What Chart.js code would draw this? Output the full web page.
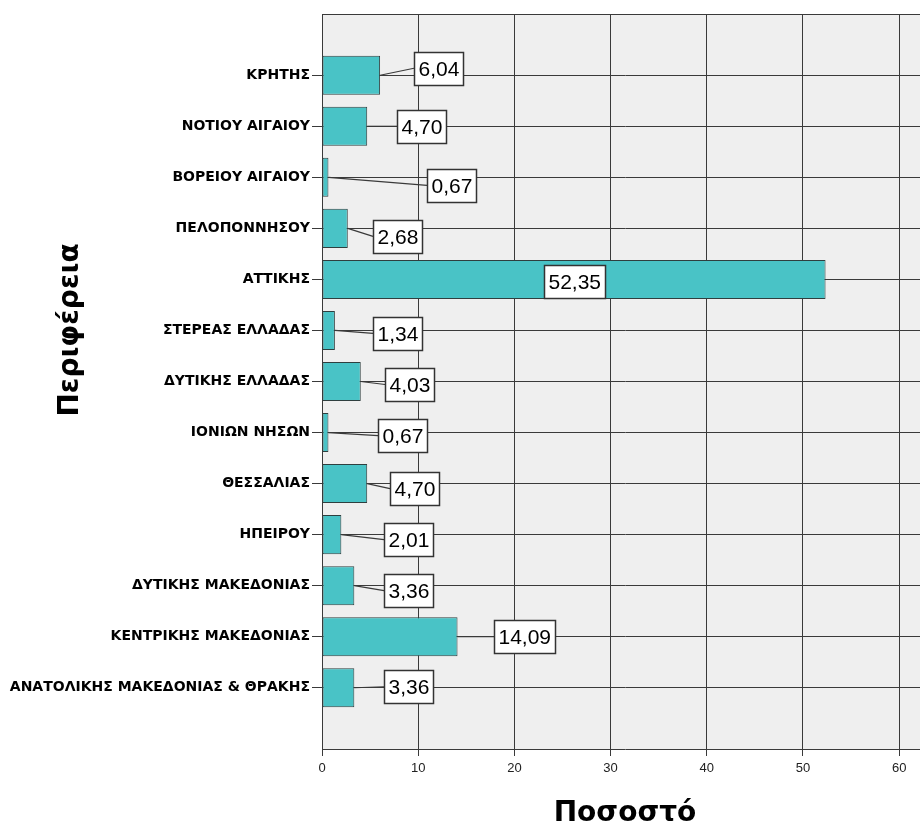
<!DOCTYPE html>
<html>
<head>
<meta charset="utf-8">
<script src="https://cdn.jsdelivr.net/npm/chart.js@4"></script>
<style>
  body { margin: 0; overflow: hidden; background: #fff; }
  #wrap { width: 940px; height: 823px; }
</style>
</head>
<body>
<div id="wrap"><canvas id="barChart"></canvas></div>
<script>
const regions = [
    "ΚΡΗΤΗΣ",
    "ΝΟΤΙΟΥ ΑΙΓΑΙΟΥ",
    "ΒΟΡΕΙΟΥ ΑΙΓΑΙΟΥ",
    "ΠΕΛΟΠΟΝΝΗΣΟΥ",
    "ΑΤΤΙΚΗΣ",
    "ΣΤΕΡΕΑΣ ΕΛΛΑΔΑΣ",
    "ΔΥΤΙΚΗΣ ΕΛΛΑΔΑΣ",
    "ΙΟΝΙΩΝ ΝΗΣΩΝ",
    "ΘΕΣΣΑΛΙΑΣ",
    "ΗΠΕΙΡΟΥ",
    "ΔΥΤΙΚΗΣ ΜΑΚΕΔΟΝΙΑΣ",
    "ΚΕΝΤΡΙΚΗΣ ΜΑΚΕΔΟΝΙΑΣ",
    "ΑΝΑΤΟΛΙΚΗΣ ΜΑΚΕΔΟΝΙΑΣ & ΘΡΑΚΗΣ"
];
const percents = [6.04, 4.70, 0.67, 2.68, 52.35, 1.34, 4.03, 0.67, 4.70, 2.01, 3.36, 14.09, 3.36];
const xTicks = [0, 10, 20, 30, 40, 50, 60];

// where each value box sits relative to the bar end: [dx, dy], null dx = inside the bar
const labelShift = [
    [34, -7], [30, 0], [99, 8], [25, 8], [null, 2], [38, 3], [24, 3],
    [50, 3], [23, 5], [43, 5], [30, 5], [36, 0], [30, -1]
];

const lineColor = "#3a3a3a";

const chartBackground = {
    id: "chartBackground",
    beforeDraw(chart) {
        const { ctx, chartArea: a } = chart;
        ctx.save();
        ctx.fillStyle = "#efefef";
        ctx.fillRect(a.left, a.top, a.right - a.left, a.bottom - a.top);
        ctx.restore();
    },
    afterDraw(chart) {
        const { ctx, chartArea: a } = chart;
        ctx.save();
        ctx.strokeStyle = lineColor;
        ctx.lineWidth = 1;
        ctx.beginPath();
        ctx.moveTo(a.left, a.top + 0.5);
        ctx.lineTo(a.right, a.top + 0.5);
        ctx.stroke();

        // axis titles
        ctx.fillStyle = "#000";
        ctx.font = "bold 28px 'DejaVu Sans'";
        ctx.textAlign = "center";
        ctx.textBaseline = "alphabetic";
        ctx.fillText("Ποσοστό", (a.left + a.right) / 2, 821);
        ctx.translate(78, 330);
        ctx.rotate(-Math.PI / 2);
        ctx.fillText("Περιφέρεια", 0, 0);
        ctx.restore();
    }
};

const valueBoxes = {
    id: "valueBoxes",
    afterDatasetsDraw(chart) {
        const { ctx } = chart;
        const bars = chart.getDatasetMeta(0).data;
        ctx.save();
        ctx.font = "21px 'Liberation Sans'";
        ctx.textBaseline = "middle";
        ctx.textAlign = "left";
        bars.forEach((bar, i) => {
            const text = percents[i].toFixed(2).replace(".", ",");
            const w = Math.round(ctx.measureText(text).width) + 8;
            const h = 33;
            const [dx, dy] = labelShift[i];
            const cy = bar.y + dy;
            let left;
            if (dx === null) {
                left = Math.round((bar.x + bar.base) / 2 - w / 2);
            } else {
                left = Math.round(bar.x + dx);
                ctx.strokeStyle = lineColor;
                ctx.lineWidth = 1.2;
                ctx.beginPath();
                ctx.moveTo(bar.x, bar.y);
                ctx.lineTo(left, cy);
                ctx.stroke();
            }
            const top = Math.round(cy - h / 2);
            ctx.fillStyle = "#fff";
            ctx.fillRect(left, top, w, h);
            ctx.strokeStyle = "#333";
            ctx.lineWidth = 1.5;
            ctx.strokeRect(left + 0.5, top + 0.5, w, h);
            ctx.fillStyle = "#000";
            ctx.fillText(text, left + 4.5, cy + 1.5);
        });
        ctx.restore();
    }
};

new Chart(document.getElementById("barChart"), {
    type: "bar",
    data: {
        datasets: [{
            data: percents.map((v, i) => ({ x: v, y: i })),
            backgroundColor: "#49c3c6",
            borderColor: "#2f3f3f",
            borderWidth: 1,
            borderSkipped: false,
            categoryPercentage: 1,
            barPercentage: 0.765
        }]
    },
    options: {
        indexAxis: "y",
        responsive: true,
        maintainAspectRatio: false,
        animation: false,
        layout: { padding: { top: 14, right: 12, left: 0, bottom: 0 } },
        plugins: { legend: { display: false }, tooltip: { enabled: false } },
        scales: {
            x: {
                type: "linear",
                min: 0,
                max: 63,
                afterBuildTicks: (scale) => { scale.ticks = xTicks.map((v) => ({ value: v })); },
                afterFit: (scale) => { scale.height = 74; },
                grid: { color: lineColor, lineWidth: 1, tickLength: 7, drawTicks: true },
                border: { color: lineColor, width: 1 },
                ticks: {
                    color: "#222",
                    padding: 5,
                    maxRotation: 0,
                    font: { family: "Liberation Sans", size: 13 }
                }
            },
            y: {
                type: "linear",
                reverse: true,
                offset: false,
                min: -1.2,
                max: 13.2,
                afterBuildTicks: (scale) => { scale.ticks = regions.map((_, i) => ({ value: i })); },
                afterFit: (scale) => { scale.width = 322; },
                grid: { color: lineColor, lineWidth: 1, tickLength: 10, offset: false },
                border: { color: lineColor, width: 1 },
                ticks: {
                    autoSkip: false,
                    color: "#000",
                    padding: 2,
                    callback: (v) => regions[v],
                    font: { family: "DejaVu Sans", size: 14, weight: "bold" }
                }
            }
        }
    },
    plugins: [chartBackground, valueBoxes]
});
</script>
</body>
</html>
